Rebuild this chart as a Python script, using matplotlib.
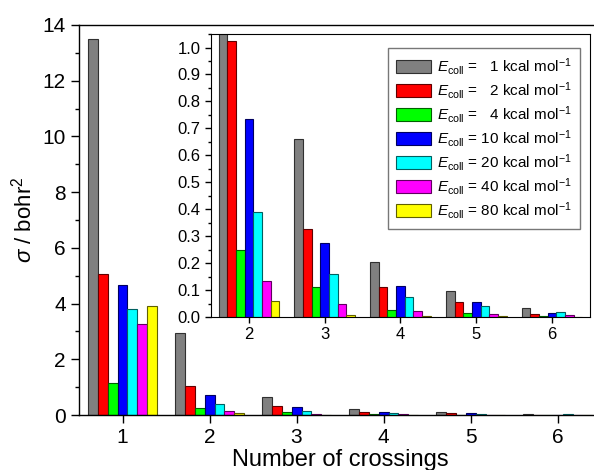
import numpy as np
import matplotlib
matplotlib.use("Agg")
import matplotlib.pyplot as plt
from matplotlib.ticker import MultipleLocator

plt.rcParams['font.family'] = ['Liberation Sans', 'DejaVu Sans']
plt.rcParams['mathtext.fontset'] = 'custom'
plt.rcParams['mathtext.rm'] = 'Liberation Sans'
plt.rcParams['mathtext.it'] = 'Liberation Sans:italic'

# -----------------------------
# Data
# -----------------------------
crossings = [1, 2, 3, 4, 5, 6]
energies = [1, 2, 4, 10, 20, 40, 80]

sigma_e1 = [13.5, 2.95, 0.66, 0.205, 0.098, 0.035]
sigma_e2 = [5.05, 1.025, 0.325, 0.11, 0.057, 0.010]
sigma_e4 = [1.15, 0.25, 0.11, 0.025, 0.016, 0.003]
sigma_e10 = [4.65, 0.735, 0.275, 0.115, 0.057, 0.016]
sigma_e20 = [3.8, 0.39, 0.16, 0.075, 0.042, 0.019]
sigma_e40 = [3.25, 0.135, 0.05, 0.022, 0.010, 0.008]
sigma_e80 = [3.9, 0.06, 0.008, 0.003, 0.005, 0.001]

series = [sigma_e1, sigma_e2, sigma_e4, sigma_e10, sigma_e20, sigma_e40, sigma_e80]

face_colors = ["#808080", "#ff0000", "#00ff00", "#0000ff", "#00ffff", "#ff00ff", "#ffff00"]
edge_colors = ["#303030", "#600000", "#006000", "#000060", "#006060", "#600060", "#606000"]

bar_w = 0.8 / 7

# -----------------------------
# Figure
# -----------------------------
fig = plt.figure(figsize=(5.94, 4.70), dpi=100)
ax = fig.add_axes([0.133, 0.117, 0.879, 0.830])

x = np.array(crossings, dtype=float)
for i, vals in enumerate(series):
    ax.bar(x + (i - 3) * bar_w, vals, width=bar_w, color=face_colors[i],
           edgecolor=edge_colors[i], linewidth=0.8)

ax.set_xlim(0.5, 6.5)
ax.set_ylim(0, 14)
ax.set_xticks(crossings)
ax.yaxis.set_major_locator(MultipleLocator(2))
ax.yaxis.set_minor_locator(MultipleLocator(1))
ax.tick_params(axis='both', which='major', direction='out', length=6, width=1,
               labelsize=15)
ax.tick_params(axis='y', which='minor', direction='out', length=3, width=1)
for s in ax.spines.values():
    s.set_linewidth(1)
ax.set_xlabel("Number of crossings", fontsize=17, labelpad=1)
ax.set_ylabel(r"$\sigma$ / bohr$^2$", fontsize=16)

# -----------------------------
# Inset
# -----------------------------
ins = fig.add_axes([0.3552, 0.3255, 0.638, 0.602])
x2 = x[1:]
for i, vals in enumerate(series):
    lab = r"$E_{\rm coll}$ = %s kcal mol$^{-1}$" % (str(energies[i]).rjust(2, "\u2007"))
    ins.bar(x2 + (i - 3) * bar_w, vals[1:], width=bar_w, color=face_colors[i],
            edgecolor=edge_colors[i], linewidth=0.8, label=lab)

ins.set_xlim(1.5, 6.5)
ins.set_ylim(0, 1.05)
ins.set_xticks(crossings[1:])
ins.yaxis.set_major_locator(MultipleLocator(0.1))
ins.yaxis.set_minor_locator(MultipleLocator(0.05))
ins.yaxis.set_major_formatter(matplotlib.ticker.FormatStrFormatter("%.1f"))
ins.tick_params(axis='both', which='major', direction='out', length=4, width=1,
                labelsize=12)
ins.tick_params(axis='y', which='minor', direction='out', length=2, width=1)

leg = ins.legend(loc='upper right', fontsize=11, frameon=True, fancybox=False,
                 edgecolor="#555555", handlelength=2.3, handleheight=0.9,
                 labelspacing=0.2, handletextpad=0.4, borderpad=0.5,
                 bbox_to_anchor=(0.993, 0.977))
leg.get_frame().set_linewidth(1)

fig.savefig("out.png", dpi=100)
